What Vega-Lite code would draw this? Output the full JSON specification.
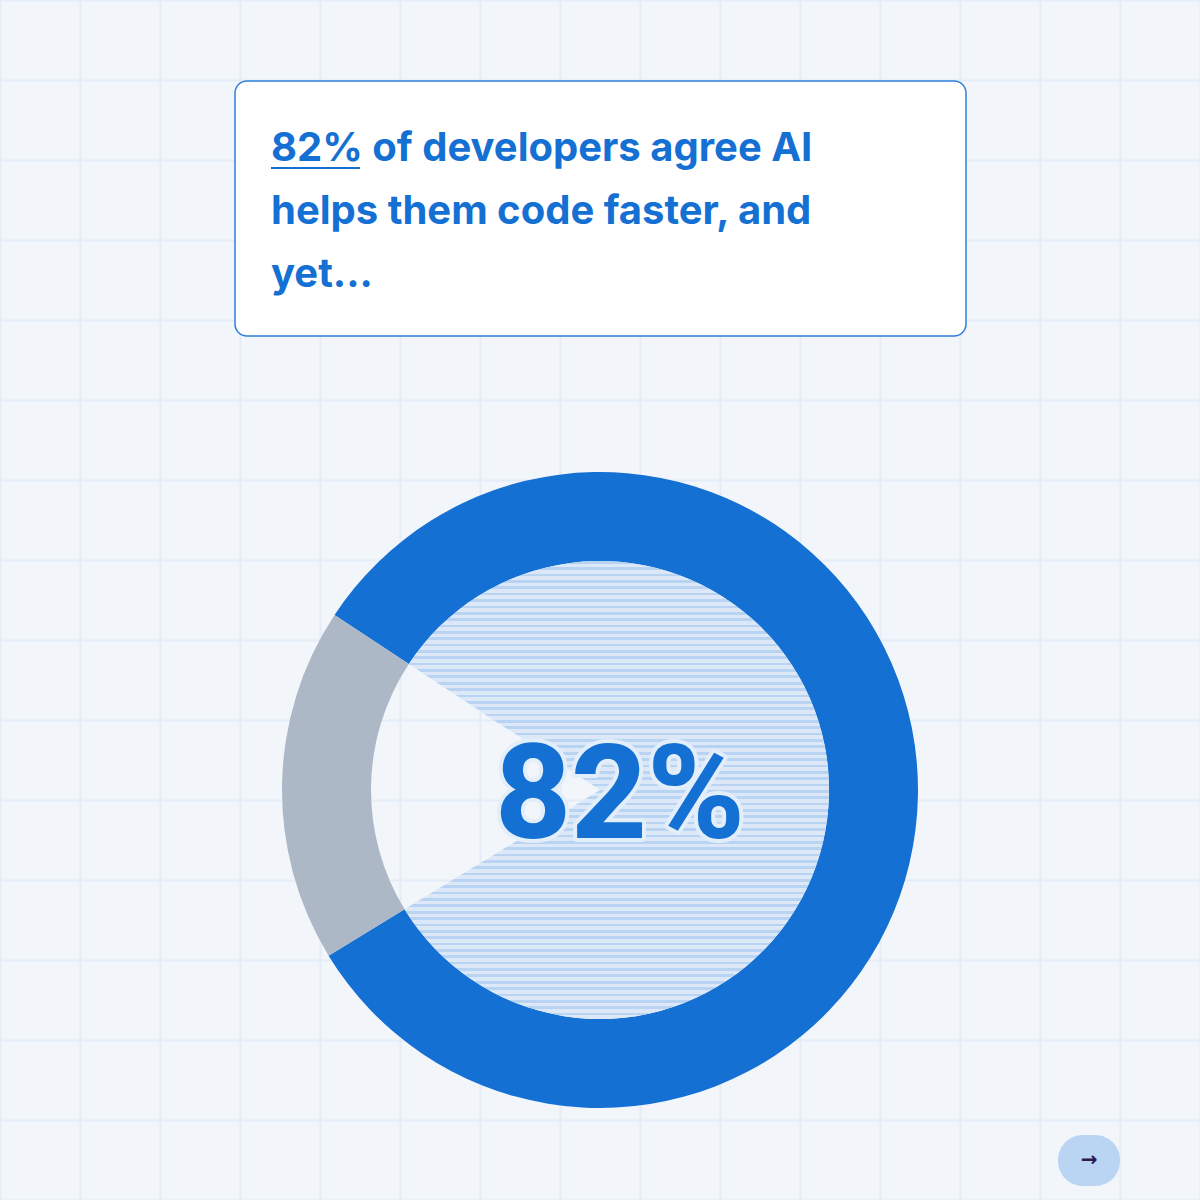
{
  "$schema": "https://vega.github.io/schema/vega-lite/v6.json",
  "width": 1200,
  "height": 1200,
  "autosize": {"type": "fit", "contains": "padding"},
  "padding": 0,
  "background": "#F2F6FB",
  "config": {"view": {"stroke": null}},
  "datasets": {
    "share": [
      {"label": "Agree", "value": 82},
      {"label": "Other", "value": 18}
    ],
    "one": [{}]
  },
  "encoding": {
    "x": {"type": "quantitative"},
    "y": {"type": "quantitative"}
  },
  "layer": [
    {
      "data": {"name": "one"},
      "mark": {"type": "rect", "fill": "#FFFFFF", "stroke": "#2F7FDA", "strokeWidth": 1.5, "cornerRadius": 12},
      "encoding": {
        "x": {"datum": 235, "type": "quantitative", "scale": {"domain": [0, 1200], "nice": false, "zero": false},
              "axis": {"values": [0,80,160,240,320,400,480,560,640,720,800,880,960,1040,1120,1200], "labels": false, "ticks": false, "domain": false, "title": null, "grid": true, "gridColor": "#E4ECF7", "gridWidth": 2, "offset": 0}},
        "x2": {"datum": 966},
        "y": {"datum": 81, "type": "quantitative", "scale": {"domain": [0, 1200], "nice": false, "zero": false, "reverse": true},
              "axis": {"values": [0,80,160,240,320,400,480,560,640,720,800,880,960,1040,1120,1200], "labels": false, "ticks": false, "domain": false, "title": null, "grid": true, "gridColor": "#E4ECF7", "gridWidth": 2, "offset": 0}},
        "y2": {"datum": 336}
      }
    },
    {
      "data": {"name": "one"},
      "mark": {"type": "text", "text": ["82% of developers agree AI", "helps them code faster, and", "yet..."], "font": "Inter", "fontWeight": 700, "fontSize": 40, "color": "#1570D3", "align": "left", "baseline": "alphabetic", "lineHeight": 63},
      "encoding": {
        "x": {"datum": 271, "type": "quantitative"},
        "y": {"datum": 161, "type": "quantitative"}
      }
    },
    {
      "data": {"name": "one"},
      "mark": {"type": "rule", "color": "#1570D3", "strokeWidth": 2},
      "encoding": {
        "x": {"datum": 271, "type": "quantitative"},
        "x2": {"datum": 360},
        "y": {"datum": 168, "type": "quantitative"}
      }
    },
    {
      "data": {"name": "share"},
      "mark": {"type": "arc", "outerRadius": 318, "innerRadius": 229},
      "encoding": {
        "x": {"datum": 600, "type": "quantitative"},
        "y": {"datum": 790, "type": "quantitative"},
        "theta": {"field": "value", "type": "quantitative", "stack": true, "scale": {"range": [-0.9879, 5.2953]}},
        "order": {"field": "value", "sort": "descending"},
        "color": {"field": "label", "type": "nominal", "scale": {"domain": ["Agree", "Other"], "range": ["#1570D3", "#ACB8C6"]}, "legend": null}
      }
    },
    {
      "data": {"name": "share"},
      "mark": {"type": "arc", "outerRadius": 229, "innerRadius": 0,
        "fill": {"gradient": "linear", "x1": 0, "y1": 0, "x2": 0, "y2": 1, "stops": [
{"offset":0.0000,"color":"#B9D3F2"},{"offset":0.0058,"color":"#B9D3F2"},{"offset":0.0058,"color":"#DCE8F8"},{"offset":0.0139,"color":"#DCE8F8"},
{"offset":0.0139,"color":"#B9D3F2"},{"offset":0.0197,"color":"#B9D3F2"},{"offset":0.0197,"color":"#DCE8F8"},{"offset":0.0278,"color":"#DCE8F8"},
{"offset":0.0278,"color":"#B9D3F2"},{"offset":0.0336,"color":"#B9D3F2"},{"offset":0.0336,"color":"#DCE8F8"},{"offset":0.0417,"color":"#DCE8F8"},
{"offset":0.0417,"color":"#B9D3F2"},{"offset":0.0475,"color":"#B9D3F2"},{"offset":0.0475,"color":"#DCE8F8"},{"offset":0.0556,"color":"#DCE8F8"},
{"offset":0.0556,"color":"#B9D3F2"},{"offset":0.0614,"color":"#B9D3F2"},{"offset":0.0614,"color":"#DCE8F8"},{"offset":0.0694,"color":"#DCE8F8"},
{"offset":0.0694,"color":"#B9D3F2"},{"offset":0.0753,"color":"#B9D3F2"},{"offset":0.0753,"color":"#DCE8F8"},{"offset":0.0833,"color":"#DCE8F8"},
{"offset":0.0833,"color":"#B9D3F2"},{"offset":0.0892,"color":"#B9D3F2"},{"offset":0.0892,"color":"#DCE8F8"},{"offset":0.0972,"color":"#DCE8F8"},
{"offset":0.0972,"color":"#B9D3F2"},{"offset":0.1031,"color":"#B9D3F2"},{"offset":0.1031,"color":"#DCE8F8"},{"offset":0.1111,"color":"#DCE8F8"},
{"offset":0.1111,"color":"#B9D3F2"},{"offset":0.1169,"color":"#B9D3F2"},{"offset":0.1169,"color":"#DCE8F8"},{"offset":0.1250,"color":"#DCE8F8"},
{"offset":0.1250,"color":"#B9D3F2"},{"offset":0.1308,"color":"#B9D3F2"},{"offset":0.1308,"color":"#DCE8F8"},{"offset":0.1389,"color":"#DCE8F8"},
{"offset":0.1389,"color":"#B9D3F2"},{"offset":0.1447,"color":"#B9D3F2"},{"offset":0.1447,"color":"#DCE8F8"},{"offset":0.1528,"color":"#DCE8F8"},
{"offset":0.1528,"color":"#B9D3F2"},{"offset":0.1586,"color":"#B9D3F2"},{"offset":0.1586,"color":"#DCE8F8"},{"offset":0.1667,"color":"#DCE8F8"},
{"offset":0.1667,"color":"#B9D3F2"},{"offset":0.1725,"color":"#B9D3F2"},{"offset":0.1725,"color":"#DCE8F8"},{"offset":0.1806,"color":"#DCE8F8"},
{"offset":0.1806,"color":"#B9D3F2"},{"offset":0.1864,"color":"#B9D3F2"},{"offset":0.1864,"color":"#DCE8F8"},{"offset":0.1944,"color":"#DCE8F8"},
{"offset":0.1944,"color":"#B9D3F2"},{"offset":0.2003,"color":"#B9D3F2"},{"offset":0.2003,"color":"#DCE8F8"},{"offset":0.2083,"color":"#DCE8F8"},
{"offset":0.2083,"color":"#B9D3F2"},{"offset":0.2142,"color":"#B9D3F2"},{"offset":0.2142,"color":"#DCE8F8"},{"offset":0.2222,"color":"#DCE8F8"},
{"offset":0.2222,"color":"#B9D3F2"},{"offset":0.2281,"color":"#B9D3F2"},{"offset":0.2281,"color":"#DCE8F8"},{"offset":0.2361,"color":"#DCE8F8"},
{"offset":0.2361,"color":"#B9D3F2"},{"offset":0.2419,"color":"#B9D3F2"},{"offset":0.2419,"color":"#DCE8F8"},{"offset":0.2500,"color":"#DCE8F8"},
{"offset":0.2500,"color":"#B9D3F2"},{"offset":0.2558,"color":"#B9D3F2"},{"offset":0.2558,"color":"#DCE8F8"},{"offset":0.2639,"color":"#DCE8F8"},
{"offset":0.2639,"color":"#B9D3F2"},{"offset":0.2697,"color":"#B9D3F2"},{"offset":0.2697,"color":"#DCE8F8"},{"offset":0.2778,"color":"#DCE8F8"},
{"offset":0.2778,"color":"#B9D3F2"},{"offset":0.2836,"color":"#B9D3F2"},{"offset":0.2836,"color":"#DCE8F8"},{"offset":0.2917,"color":"#DCE8F8"},
{"offset":0.2917,"color":"#B9D3F2"},{"offset":0.2975,"color":"#B9D3F2"},{"offset":0.2975,"color":"#DCE8F8"},{"offset":0.3056,"color":"#DCE8F8"},
{"offset":0.3056,"color":"#B9D3F2"},{"offset":0.3114,"color":"#B9D3F2"},{"offset":0.3114,"color":"#DCE8F8"},{"offset":0.3194,"color":"#DCE8F8"},
{"offset":0.3194,"color":"#B9D3F2"},{"offset":0.3253,"color":"#B9D3F2"},{"offset":0.3253,"color":"#DCE8F8"},{"offset":0.3333,"color":"#DCE8F8"},
{"offset":0.3333,"color":"#B9D3F2"},{"offset":0.3392,"color":"#B9D3F2"},{"offset":0.3392,"color":"#DCE8F8"},{"offset":0.3472,"color":"#DCE8F8"},
{"offset":0.3472,"color":"#B9D3F2"},{"offset":0.3531,"color":"#B9D3F2"},{"offset":0.3531,"color":"#DCE8F8"},{"offset":0.3611,"color":"#DCE8F8"},
{"offset":0.3611,"color":"#B9D3F2"},{"offset":0.3669,"color":"#B9D3F2"},{"offset":0.3669,"color":"#DCE8F8"},{"offset":0.3750,"color":"#DCE8F8"},
{"offset":0.3750,"color":"#B9D3F2"},{"offset":0.3808,"color":"#B9D3F2"},{"offset":0.3808,"color":"#DCE8F8"},{"offset":0.3889,"color":"#DCE8F8"},
{"offset":0.3889,"color":"#B9D3F2"},{"offset":0.3947,"color":"#B9D3F2"},{"offset":0.3947,"color":"#DCE8F8"},{"offset":0.4028,"color":"#DCE8F8"},
{"offset":0.4028,"color":"#B9D3F2"},{"offset":0.4086,"color":"#B9D3F2"},{"offset":0.4086,"color":"#DCE8F8"},{"offset":0.4167,"color":"#DCE8F8"},
{"offset":0.4167,"color":"#B9D3F2"},{"offset":0.4225,"color":"#B9D3F2"},{"offset":0.4225,"color":"#DCE8F8"},{"offset":0.4306,"color":"#DCE8F8"},
{"offset":0.4306,"color":"#B9D3F2"},{"offset":0.4364,"color":"#B9D3F2"},{"offset":0.4364,"color":"#DCE8F8"},{"offset":0.4444,"color":"#DCE8F8"},
{"offset":0.4444,"color":"#B9D3F2"},{"offset":0.4503,"color":"#B9D3F2"},{"offset":0.4503,"color":"#DCE8F8"},{"offset":0.4583,"color":"#DCE8F8"},
{"offset":0.4583,"color":"#B9D3F2"},{"offset":0.4642,"color":"#B9D3F2"},{"offset":0.4642,"color":"#DCE8F8"},{"offset":0.4722,"color":"#DCE8F8"},
{"offset":0.4722,"color":"#B9D3F2"},{"offset":0.4781,"color":"#B9D3F2"},{"offset":0.4781,"color":"#DCE8F8"},{"offset":0.4861,"color":"#DCE8F8"},
{"offset":0.4861,"color":"#B9D3F2"},{"offset":0.4919,"color":"#B9D3F2"},{"offset":0.4919,"color":"#DCE8F8"},{"offset":0.5000,"color":"#DCE8F8"},
{"offset":0.5000,"color":"#B9D3F2"},{"offset":0.5058,"color":"#B9D3F2"},{"offset":0.5058,"color":"#DCE8F8"},{"offset":0.5139,"color":"#DCE8F8"},
{"offset":0.5139,"color":"#B9D3F2"},{"offset":0.5197,"color":"#B9D3F2"},{"offset":0.5197,"color":"#DCE8F8"},{"offset":0.5278,"color":"#DCE8F8"},
{"offset":0.5278,"color":"#B9D3F2"},{"offset":0.5336,"color":"#B9D3F2"},{"offset":0.5336,"color":"#DCE8F8"},{"offset":0.5417,"color":"#DCE8F8"},
{"offset":0.5417,"color":"#B9D3F2"},{"offset":0.5475,"color":"#B9D3F2"},{"offset":0.5475,"color":"#DCE8F8"},{"offset":0.5556,"color":"#DCE8F8"},
{"offset":0.5556,"color":"#B9D3F2"},{"offset":0.5614,"color":"#B9D3F2"},{"offset":0.5614,"color":"#DCE8F8"},{"offset":0.5694,"color":"#DCE8F8"},
{"offset":0.5694,"color":"#B9D3F2"},{"offset":0.5753,"color":"#B9D3F2"},{"offset":0.5753,"color":"#DCE8F8"},{"offset":0.5833,"color":"#DCE8F8"},
{"offset":0.5833,"color":"#B9D3F2"},{"offset":0.5892,"color":"#B9D3F2"},{"offset":0.5892,"color":"#DCE8F8"},{"offset":0.5972,"color":"#DCE8F8"},
{"offset":0.5972,"color":"#B9D3F2"},{"offset":0.6031,"color":"#B9D3F2"},{"offset":0.6031,"color":"#DCE8F8"},{"offset":0.6111,"color":"#DCE8F8"},
{"offset":0.6111,"color":"#B9D3F2"},{"offset":0.6169,"color":"#B9D3F2"},{"offset":0.6169,"color":"#DCE8F8"},{"offset":0.6250,"color":"#DCE8F8"},
{"offset":0.6250,"color":"#B9D3F2"},{"offset":0.6308,"color":"#B9D3F2"},{"offset":0.6308,"color":"#DCE8F8"},{"offset":0.6389,"color":"#DCE8F8"},
{"offset":0.6389,"color":"#B9D3F2"},{"offset":0.6447,"color":"#B9D3F2"},{"offset":0.6447,"color":"#DCE8F8"},{"offset":0.6528,"color":"#DCE8F8"},
{"offset":0.6528,"color":"#B9D3F2"},{"offset":0.6586,"color":"#B9D3F2"},{"offset":0.6586,"color":"#DCE8F8"},{"offset":0.6667,"color":"#DCE8F8"},
{"offset":0.6667,"color":"#B9D3F2"},{"offset":0.6725,"color":"#B9D3F2"},{"offset":0.6725,"color":"#DCE8F8"},{"offset":0.6806,"color":"#DCE8F8"},
{"offset":0.6806,"color":"#B9D3F2"},{"offset":0.6864,"color":"#B9D3F2"},{"offset":0.6864,"color":"#DCE8F8"},{"offset":0.6944,"color":"#DCE8F8"},
{"offset":0.6944,"color":"#B9D3F2"},{"offset":0.7003,"color":"#B9D3F2"},{"offset":0.7003,"color":"#DCE8F8"},{"offset":0.7083,"color":"#DCE8F8"},
{"offset":0.7083,"color":"#B9D3F2"},{"offset":0.7142,"color":"#B9D3F2"},{"offset":0.7142,"color":"#DCE8F8"},{"offset":0.7222,"color":"#DCE8F8"},
{"offset":0.7222,"color":"#B9D3F2"},{"offset":0.7281,"color":"#B9D3F2"},{"offset":0.7281,"color":"#DCE8F8"},{"offset":0.7361,"color":"#DCE8F8"},
{"offset":0.7361,"color":"#B9D3F2"},{"offset":0.7419,"color":"#B9D3F2"},{"offset":0.7419,"color":"#DCE8F8"},{"offset":0.7500,"color":"#DCE8F8"},
{"offset":0.7500,"color":"#B9D3F2"},{"offset":0.7558,"color":"#B9D3F2"},{"offset":0.7558,"color":"#DCE8F8"},{"offset":0.7639,"color":"#DCE8F8"},
{"offset":0.7639,"color":"#B9D3F2"},{"offset":0.7697,"color":"#B9D3F2"},{"offset":0.7697,"color":"#DCE8F8"},{"offset":0.7778,"color":"#DCE8F8"},
{"offset":0.7778,"color":"#B9D3F2"},{"offset":0.7836,"color":"#B9D3F2"},{"offset":0.7836,"color":"#DCE8F8"},{"offset":0.7917,"color":"#DCE8F8"},
{"offset":0.7917,"color":"#B9D3F2"},{"offset":0.7975,"color":"#B9D3F2"},{"offset":0.7975,"color":"#DCE8F8"},{"offset":0.8056,"color":"#DCE8F8"},
{"offset":0.8056,"color":"#B9D3F2"},{"offset":0.8114,"color":"#B9D3F2"},{"offset":0.8114,"color":"#DCE8F8"},{"offset":0.8194,"color":"#DCE8F8"},
{"offset":0.8194,"color":"#B9D3F2"},{"offset":0.8253,"color":"#B9D3F2"},{"offset":0.8253,"color":"#DCE8F8"},{"offset":0.8333,"color":"#DCE8F8"},
{"offset":0.8333,"color":"#B9D3F2"},{"offset":0.8392,"color":"#B9D3F2"},{"offset":0.8392,"color":"#DCE8F8"},{"offset":0.8472,"color":"#DCE8F8"},
{"offset":0.8472,"color":"#B9D3F2"},{"offset":0.8531,"color":"#B9D3F2"},{"offset":0.8531,"color":"#DCE8F8"},{"offset":0.8611,"color":"#DCE8F8"},
{"offset":0.8611,"color":"#B9D3F2"},{"offset":0.8669,"color":"#B9D3F2"},{"offset":0.8669,"color":"#DCE8F8"},{"offset":0.8750,"color":"#DCE8F8"},
{"offset":0.8750,"color":"#B9D3F2"},{"offset":0.8808,"color":"#B9D3F2"},{"offset":0.8808,"color":"#DCE8F8"},{"offset":0.8889,"color":"#DCE8F8"},
{"offset":0.8889,"color":"#B9D3F2"},{"offset":0.8947,"color":"#B9D3F2"},{"offset":0.8947,"color":"#DCE8F8"},{"offset":0.9028,"color":"#DCE8F8"},
{"offset":0.9028,"color":"#B9D3F2"},{"offset":0.9086,"color":"#B9D3F2"},{"offset":0.9086,"color":"#DCE8F8"},{"offset":0.9167,"color":"#DCE8F8"},
{"offset":0.9167,"color":"#B9D3F2"},{"offset":0.9225,"color":"#B9D3F2"},{"offset":0.9225,"color":"#DCE8F8"},{"offset":0.9306,"color":"#DCE8F8"},
{"offset":0.9306,"color":"#B9D3F2"},{"offset":0.9364,"color":"#B9D3F2"},{"offset":0.9364,"color":"#DCE8F8"},{"offset":0.9444,"color":"#DCE8F8"},
{"offset":0.9444,"color":"#B9D3F2"},{"offset":0.9503,"color":"#B9D3F2"},{"offset":0.9503,"color":"#DCE8F8"},{"offset":0.9583,"color":"#DCE8F8"},
{"offset":0.9583,"color":"#B9D3F2"},{"offset":0.9642,"color":"#B9D3F2"},{"offset":0.9642,"color":"#DCE8F8"},{"offset":0.9722,"color":"#DCE8F8"},
{"offset":0.9722,"color":"#B9D3F2"},{"offset":0.9781,"color":"#B9D3F2"},{"offset":0.9781,"color":"#DCE8F8"},{"offset":0.9861,"color":"#DCE8F8"},
{"offset":0.9861,"color":"#B9D3F2"},{"offset":0.9919,"color":"#B9D3F2"},{"offset":0.9919,"color":"#DCE8F8"},{"offset":1.0000,"color":"#DCE8F8"}
        ]}},
      "encoding": {
        "x": {"datum": 600, "type": "quantitative"},
        "y": {"datum": 790, "type": "quantitative"},
        "theta": {"field": "value", "type": "quantitative", "stack": true},
        "order": {"field": "value", "sort": "descending"},
        "opacity": {"condition": {"test": "datum.label === 'Other'", "value": 0}, "value": 1}
      }
    },
    {
      "data": {"name": "one"},
      "mark": {"type": "text", "text": "82%", "font": "Roboto", "fontWeight": 800, "fontSize": 132, "align": "center", "baseline": "alphabetic", "fill": "#E3EEFB", "stroke": "#E3EEFB", "strokeWidth": 8, "strokeJoin": "round"},
      "encoding": {
        "x": {"datum": 620, "type": "quantitative"},
        "y": {"datum": 838, "type": "quantitative"}
      }
    },
    {
      "data": {"name": "one"},
      "mark": {"type": "text", "text": "82%", "font": "Roboto", "fontWeight": 800, "fontSize": 132, "align": "center", "baseline": "alphabetic", "fill": "#1570D3"},
      "encoding": {
        "x": {"datum": 620, "type": "quantitative"},
        "y": {"datum": 838, "type": "quantitative"}
      }
    },
    {
      "data": {"name": "one"},
      "mark": {"type": "rect", "fill": "#B9D5F3", "cornerRadius": 25},
      "encoding": {
        "x": {"datum": 1058, "type": "quantitative"},
        "x2": {"datum": 1120},
        "y": {"datum": 1135, "type": "quantitative"},
        "y2": {"datum": 1186}
      }
    },
    {
      "data": {"name": "one"},
      "mark": {"type": "text", "text": "→", "font": "DejaVu Sans", "fontWeight": 700, "fontSize": 20, "align": "center", "baseline": "middle", "fill": "#2B1B4F"},
      "encoding": {
        "x": {"datum": 1089, "type": "quantitative"},
        "y": {"datum": 1160, "type": "quantitative"}
      }
    }
  ]
}
